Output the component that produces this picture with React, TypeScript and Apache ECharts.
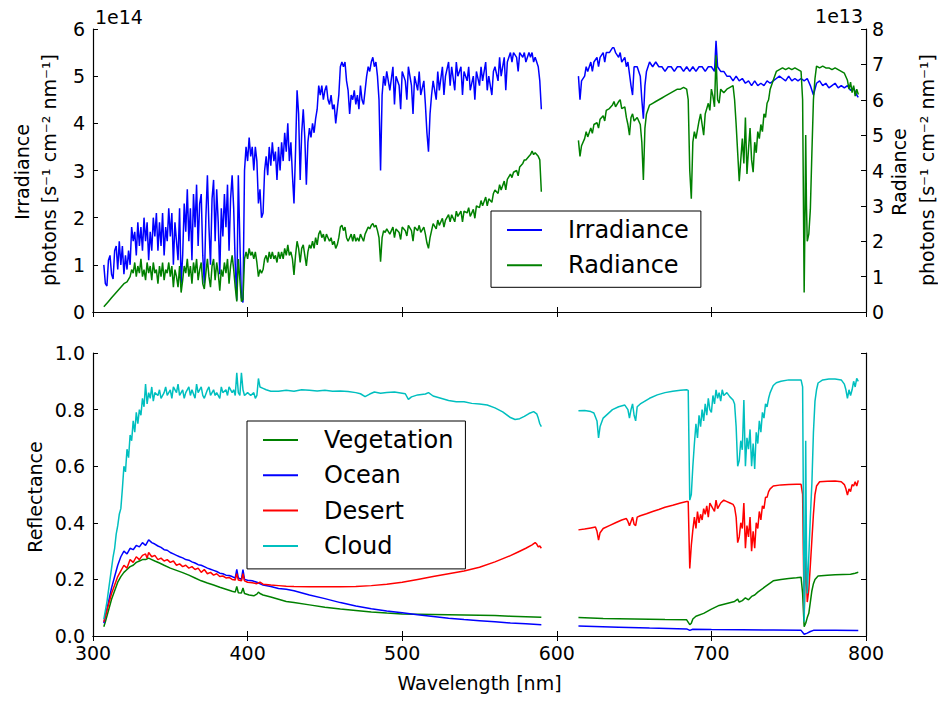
import React, { useEffect, useRef } from "react";
import * as echarts from "echarts";

// ---------- data ----------
// Irradiance in units of 1e14 photons s^-1 cm^-2 nm^-1
const irradianceA = [
  [307,1.0],[308,0.6],[309,0.55],[310,1.1],[311,1.2],[312,0.8],[313,0.7],[314,1.3],[315,1.4],[316,0.9],
  [317,1.5],[318,1.0],[319,1.4],[320,0.8],[321,1.2],[322,0.9],[323,1.3],[324,1.0],[325,1.8],[326,1.5],
  [327,1.7],[328,1.2],[329,1.9],[330,1.4],[331,1.8],[332,1.3],[333,2.0],[334,1.5],[335,1.9],[336,1.1],
  [337,1.7],[338,1.3],[339,2.0],[340,1.6],[341,2.1],[342,1.3],[343,1.9],[344,1.4],[345,2.1],[346,1.2],
  [347,1.8],[348,1.5],[349,2.2],[350,1.6],[351,2.1],[352,1.0],[353,1.9],[354,1.5],[355,1.1],[356,2.2],
  [357,0.6],[358,1.2],[359,2.3],[360,1.7],[361,2.6],[362,1.5],[363,2.2],[364,1.1],[365,2.5],[366,1.8],
  [367,2.7],[368,1.4],[369,2.3],[370,2.5],[371,1.2],[372,0.6],[373,2.0],[374,2.9],[375,1.8],[376,1.0],
  [377,2.4],[378,2.8],[379,1.5],[380,2.6],[381,1.9],[382,0.8],[383,2.2],[384,1.6],[385,2.5],[386,1.8],
  [387,2.7],[388,1.3],[389,2.4],[390,2.9],[391,2.2],[392,1.0],[393,0.25],[394,2.9],[395,1.5],[396,0.3],
  [397,0.2],[398,3.0],[399,3.5],[400,3.2],[401,3.7],[402,3.3],[403,3.5],[404,3.0],[405,3.5],[406,3.2],
  [407,2.3],[408,2.6],[409,2.0],[410,2.1],[411,3.0],[412,3.3],[413,2.9],[414,3.5],[415,3.1],[416,3.6],
  [417,3.2],[418,3.4],[419,2.8],[420,3.5],[421,3.0],[422,3.6],[423,3.2],[424,3.8],[425,3.4],[426,4.0],
  [427,3.2],[428,3.6],[429,2.9],[430,2.3],[431,3.4],[432,4.7],[433,4.2],[434,2.8],[435,3.8],[436,4.3],
  [437,3.7],[438,2.7],[439,3.6],[440,3.9],[441,3.7],[442,4.0],[443,3.8],[444,4.1],[445,4.3],[446,4.8],
  [447,4.6],[448,4.8],[449,4.5],[450,4.7],[451,4.8],[452,4.5],[453,4.4],[454,4.6],[455,4.3],[456,4.4],
  [457,4.0],[458,4.3],[459,4.6],[460,5.2],[461,5.3],[462,5.2],[463,5.3],[464,4.9],[465,4.7],[466,4.2],
  [467,4.6],[468,4.5],[469,4.7],[470,4.4],[471,4.6],[472,4.3],[473,4.8],[474,4.5],[475,4.4],[476,4.7],
  [477,5.0],[478,5.2],[479,5.1],[480,5.3],[481,5.4],[482,5.2],[483,5.3],[484,5.0],[485,4.5],[486,3.0],
  [487,4.6],[488,5.0],[489,4.8],[490,5.1],[492,4.7],[494,5.2],[495,4.4],[496,5.0],[498,4.8],[499,4.3],
  [500,5.1],[502,4.9],[503,4.5],[504,5.2],[506,4.8],[507,4.2],[508,5.0],[510,4.7],[511,5.1],[512,4.6],
  [514,4.9],[515,4.4],[516,3.8],[517,3.4],[518,4.2],[519,4.6],[520,4.9],[522,4.5],[523,5.1],[524,4.7],
  [526,5.2],[527,4.6],[528,5.0],[530,5.3],[531,4.8],[532,5.2],[534,4.7],[535,5.3],[536,5.0],[538,5.2],
  [539,4.6],[540,5.1],[542,4.9],[543,5.2],[544,4.7],[546,5.0],[547,4.5],[548,5.1],[550,4.8],[551,5.2],
  [552,4.9],[554,5.3],[555,4.7],[556,5.0],[558,4.6],[559,5.1],[560,5.2],[562,4.9],[563,5.4],[564,5.0],
  [566,5.4],[567,4.7],[568,5.3],[570,5.5],[571,5.3],[572,5.5],[574,5.4],[575,5.1],[576,5.5],[578,5.4],
  [579,5.5],[580,5.3],[582,5.5],[583,5.4],[584,5.5],[585,5.3],[586,5.4],[587,5.3],[588,5.2],[589,4.9],[590,4.3]
];
const irradianceB = [
  [614,5.0],[615,4.5],[616,4.9],[618,5.0],[619,5.2],[620,5.1],[622,5.3],[623,5.1],[624,5.3],[626,5.4],
  [627,5.2],[628,5.4],[630,5.5],[631,5.3],[632,5.5],[634,5.5],[636,5.6],[637,5.6],[638,5.5],[640,5.4],
  [641,5.5],[642,5.3],[644,5.4],[645,5.2],[646,5.3],[648,4.8],[649,4.6],[650,5.2],[652,5.2],[654,5.0],
  [655,4.5],[656,4.1],[657,4.8],[658,5.1],[660,5.3],[662,5.2],[664,5.3],[666,5.2],[668,5.2],[670,5.1],
  [672,5.2],[674,5.2],[676,5.1],[678,5.2],[680,5.2],[682,5.1],[684,5.2],[686,5.1],[688,5.2],[690,5.1],
  [692,5.2],[694,5.2],[696,5.1],[698,5.2],[700,5.2],[702,5.1],[703,5.75],[704,5.2],[706,5.1],[708,5.1],
  [710,5.0],[712,5.0],[714,4.9],[716,5.0],[718,4.9],[720,4.95],[722,4.85],[724,4.9],[726,4.8],[728,4.9],
  [730,4.8],[732,4.85],[734,4.8],[736,4.9],[738,4.85],[740,4.9],[742,4.95],[744,5.0],[746,4.95],[748,4.9],
  [750,5.0],[752,4.9],[754,4.95],[756,4.9],[758,4.95],[760,4.9],[762,4.95],[764,4.8],[766,4.6],[768,4.85],
  [770,4.9],[772,4.8],[774,4.85],[776,4.75],[778,4.8],[780,4.85],[782,4.75],[784,4.8],[786,4.75],[788,4.8],
  [790,4.7],[792,4.75],[794,4.6],[795,4.55]
];

// Radiance in units of 1e13 photons s^-1 cm^-2 nm^-1
const radianceA = [
  [307,0.15],[308,0.2],[310,0.3],[312,0.4],[314,0.5],[316,0.6],[318,0.7],[320,0.8],[322,0.85],[324,1.0],
  [325,1.2],[326,1.1],[327,1.4],[328,1.0],[329,1.3],[330,1.1],[331,1.5],[332,1.0],[333,1.2],[334,0.9],
  [335,1.4],[336,1.1],[337,1.3],[338,0.9],[339,1.4],[340,1.1],[341,1.2],[342,0.8],[343,1.3],[344,1.0],
  [345,1.4],[346,0.9],[347,1.2],[348,1.1],[349,1.4],[350,1.0],[351,1.3],[352,0.7],[353,1.2],[354,1.0],
  [355,0.7],[356,1.3],[357,0.55],[358,0.9],[359,1.3],[360,1.1],[361,1.5],[362,1.0],[363,1.3],[364,0.8],
  [365,1.4],[366,1.1],[367,1.5],[368,0.9],[369,1.2],[370,1.4],[371,0.8],[372,0.65],[373,1.1],[374,1.5],
  [375,1.0],[376,0.7],[377,1.3],[378,1.5],[379,0.9],[380,1.4],[381,1.1],[382,0.6],[383,1.2],[384,1.0],
  [385,1.4],[386,1.1],[387,1.5],[388,0.8],[389,1.3],[390,1.6],[391,1.2],[392,0.7],[393,0.3],[394,1.5],
  [395,0.9],[396,0.3],[397,0.35],[398,1.5],[399,1.7],[400,1.5],[401,1.8],[402,1.6],[403,1.7],[404,1.5],
  [405,1.7],[406,1.4],[407,1.0],[408,1.2],[409,1.1],[410,1.2],[411,1.5],[412,1.6],[413,1.4],[414,1.7],
  [415,1.5],[416,1.7],[417,1.5],[418,1.6],[419,1.4],[420,1.7],[421,1.5],[422,1.7],[423,1.5],[424,1.8],
  [425,1.6],[426,1.9],[427,1.6],[428,1.7],[429,1.5],[430,1.05],[431,1.6],[432,2.0],[433,1.8],[434,1.4],
  [435,1.8],[436,1.9],[437,1.6],[438,1.3],[439,1.7],[440,1.9],[441,1.8],[442,2.0],[443,1.8],[444,2.1],
  [445,1.9],[446,2.2],[447,2.3],[448,2.1],[449,2.2],[450,2.0],[451,2.2],[452,2.1],[453,2.0],[454,2.1],
  [455,1.9],[456,2.0],[457,1.8],[458,1.9],[459,2.1],[460,2.4],[461,2.45],[462,2.3],[463,2.4],[464,2.1],
  [465,2.0],[466,2.1],[467,2.2],[468,2.0],[469,2.2],[470,2.0],[471,2.1],[472,2.0],[473,2.2],[474,2.1],
  [475,2.0],[476,2.2],[477,2.3],[478,2.4],[479,2.35],[480,2.45],[481,2.5],[482,2.4],[483,2.45],[484,2.3],
  [485,2.1],[486,1.42],[487,2.1],[488,2.3],[489,2.25],[490,2.35],[492,2.2],[494,2.4],[495,2.1],[496,2.35],
  [498,2.25],[499,2.05],[500,2.4],[502,2.3],[503,2.15],[504,2.45],[506,2.3],[507,2.0],[508,2.4],[510,2.3],
  [511,2.45],[512,2.25],[514,2.4],[515,2.2],[516,1.95],[517,1.8],[518,2.1],[519,2.3],[520,2.5],[522,2.35],
  [523,2.6],[524,2.45],[526,2.65],[527,2.4],[528,2.6],[530,2.75],[531,2.55],[532,2.75],[534,2.55],[535,2.85],
  [536,2.7],[538,2.85],[539,2.55],[540,2.85],[542,2.8],[543,2.95],[544,2.7],[546,2.9],[547,2.65],[548,3.0],
  [550,2.95],[551,3.15],[552,3.0],[554,3.25],[555,3.0],[556,3.2],[558,3.1],[559,3.35],[560,3.45],[562,3.35],
  [563,3.6],[564,3.45],[566,3.7],[567,3.45],[568,3.75],[570,3.9],[571,3.8],[572,3.95],[574,4.0],[575,3.85],
  [576,4.1],[578,4.2],[579,4.3],[580,4.3],[582,4.4],[583,4.45],[584,4.55],[585,4.45],[586,4.5],[587,4.45],
  [588,4.4],[589,4.3],[590,3.4]
];
const radianceB = [
  [614,4.85],[615,4.4],[616,4.7],[618,4.9],[619,5.1],[620,4.95],[622,5.2],[623,5.05],[624,5.3],[626,5.35],
  [627,5.2],[628,5.45],[630,5.55],[631,5.4],[632,5.7],[634,5.75],[636,5.85],[637,5.95],[638,5.8],[640,5.95],
  [641,6.0],[642,5.75],[644,5.8],[645,5.5],[646,5.3],[647,5.0],[648,5.5],[649,5.6],[650,5.4],[652,5.5],
  [654,5.3],[655,4.8],[656,3.73],[657,5.2],[658,5.6],[660,5.85],[662,5.9],[664,5.95],[666,6.0],[668,6.05],
  [670,6.1],[672,6.15],[674,6.2],[676,6.25],[678,6.3],[680,6.3],[682,6.35],[684,6.3],[685,6.0],[686,4.0],
  [687,3.2],[688,4.8],[689,5.1],[690,4.9],[692,5.4],[693,5.6],[694,5.3],[695,5.0],[696,5.6],[698,5.9],
  [699,5.7],[700,6.3],[701,6.1],[702,5.8],[703,7.26],[704,6.0],[705,5.9],[706,6.3],[708,6.2],[710,6.3],
  [712,6.35],[714,6.4],[715,6.0],[716,5.3],[717,4.5],[718,3.7],[719,4.3],[720,4.9],[721,4.2],[722,5.5],
  [723,3.9],[724,4.6],[725,5.2],[726,4.3],[727,3.95],[728,4.8],[729,4.5],[730,5.1],[731,4.9],[732,5.3],
  [733,5.1],[734,5.6],[735,5.5],[736,5.9],[737,6.0],[738,6.3],[740,6.55],[742,6.8],[744,6.85],[746,6.9],
  [748,6.85],[750,6.9],[752,6.85],[754,6.9],[756,6.85],[758,6.8],[759,6.0],[760,0.55],[760.5,2.5],[761,5.0],
  [761.5,3.0],[762,2.0],[763,2.2],[764,2.9],[765,4.5],[766,6.0],[767,6.6],[768,6.95],[770,6.9],[772,6.95],
  [774,6.9],[776,6.9],[778,6.85],[780,6.9],[782,6.85],[784,6.8],[786,6.75],[788,6.55],[789,6.3],[790,6.5],
  [791,6.2],[792,6.4],[793,6.1],[794,6.3],[795,6.15]
];

// Reflectance
const vegetationA = [
  [307,0.033],[308,0.05],[310,0.09],[312,0.13],[314,0.16],[316,0.19],[318,0.21],[320,0.225],[322,0.235],
  [324,0.245],[326,0.25],[328,0.26],[330,0.265],[332,0.27],[334,0.27],[336,0.275],[338,0.27],[340,0.265],
  [343,0.258],[346,0.25],[350,0.24],[354,0.232],[358,0.224],[362,0.215],[366,0.205],[370,0.195],[374,0.187],
  [378,0.18],[382,0.172],[386,0.165],[390,0.158],[392,0.155],[393,0.175],[394,0.153],[396,0.152],[397,0.17],
  [398,0.15],[401,0.145],[404,0.142],[406,0.148],[407,0.155],[408,0.15],[410,0.145],[415,0.138],[420,0.13],
  [425,0.122],[430,0.118],[440,0.11],[450,0.102],[460,0.095],[470,0.09],[480,0.085],[490,0.081],[500,0.078],
  [510,0.077],[520,0.076],[530,0.075],[540,0.074],[550,0.073],[560,0.072],[570,0.07],[580,0.068],[590,0.066]
];
const vegetationB = [
  [614,0.065],[630,0.062],[650,0.06],[670,0.058],[684,0.057],[686,0.04],[687,0.045],[688,0.06],[690,0.07],
  [695,0.08],[700,0.095],[705,0.108],[710,0.115],[715,0.122],[717,0.13],[718,0.12],[720,0.125],[722,0.135],
  [724,0.128],[726,0.14],[728,0.145],[730,0.155],[735,0.175],[740,0.195],[745,0.2],[750,0.203],[755,0.206],
  [758,0.208],[759,0.15],[760,0.033],[761,0.045],[762,0.065],[763,0.08],[764,0.12],[765,0.16],[766,0.185],
  [767,0.2],[769,0.212],[775,0.215],[780,0.216],[785,0.217],[790,0.218],[793,0.222],[795,0.225]
];
const oceanA = [
  [307,0.045],[308,0.07],[310,0.12],[312,0.17],[314,0.21],[316,0.25],[318,0.28],[320,0.3],[322,0.29],
  [324,0.31],[326,0.305],[328,0.32],[330,0.315],[332,0.33],[334,0.32],[336,0.34],[338,0.33],[340,0.325],
  [342,0.318],[344,0.313],[346,0.305],[348,0.303],[350,0.295],[352,0.29],[354,0.285],[356,0.28],[358,0.276],
  [360,0.27],[362,0.268],[364,0.262],[366,0.258],[368,0.252],[370,0.25],[372,0.245],[374,0.24],[376,0.236],
  [378,0.232],[380,0.228],[382,0.222],[384,0.22],[386,0.215],[388,0.214],[390,0.21],[392,0.205],[393,0.235],
  [394,0.205],[396,0.2],[397,0.235],[398,0.2],[400,0.197],[403,0.195],[406,0.19],[410,0.18],[415,0.175],
  [420,0.168],[425,0.165],[430,0.16],[440,0.145],[450,0.132],[460,0.118],[470,0.106],[480,0.096],[490,0.088],
  [500,0.082],[510,0.075],[520,0.069],[530,0.063],[540,0.058],[550,0.054],[560,0.05],[570,0.046],[580,0.043],
  [590,0.04]
];
const oceanB = [
  [614,0.035],[640,0.031],[660,0.028],[684,0.025],[686,0.02],[688,0.024],[700,0.023],[720,0.022],[740,0.021],
  [758,0.02],[760,0.006],[762,0.01],[764,0.016],[766,0.02],[780,0.02],[795,0.019]
];
const desertA = [
  [307,0.05],[308,0.07],[310,0.11],[312,0.15],[314,0.18],[316,0.21],[318,0.23],[320,0.25],[322,0.24],
  [324,0.27],[326,0.26],[328,0.28],[330,0.27],[332,0.285],[334,0.29],[335,0.275],[336,0.295],[338,0.28],
  [340,0.285],[342,0.27],[344,0.275],[346,0.265],[348,0.27],[350,0.26],[352,0.265],[354,0.25],[356,0.255],
  [358,0.245],[360,0.25],[362,0.24],[364,0.245],[366,0.235],[368,0.24],[370,0.225],[372,0.235],[374,0.22],
  [376,0.225],[378,0.215],[380,0.22],[382,0.21],[384,0.212],[386,0.205],[388,0.207],[390,0.2],[392,0.198],
  [393,0.22],[394,0.198],[396,0.195],[397,0.22],[398,0.195],[400,0.19],[403,0.188],[406,0.185],[408,0.19],
  [410,0.183],[415,0.18],[420,0.178],[425,0.176],[430,0.175],[440,0.174],[450,0.174],[460,0.174],[470,0.175],
  [480,0.178],[490,0.183],[500,0.19],[510,0.2],[520,0.21],[530,0.22],[540,0.23],[550,0.243],
  [560,0.262],[570,0.284],[575,0.297],[580,0.31],[584,0.322],[586,0.33],[587,0.325],[588,0.315],[589,0.318],
  [590,0.31]
];
const desertB = [
  [614,0.375],[618,0.378],[622,0.382],[625,0.385],[626,0.37],[627,0.339],[628,0.365],[630,0.38],[634,0.39],
  [638,0.4],[642,0.41],[645,0.415],[646,0.405],[647,0.39],[648,0.405],[649,0.42],[650,0.395],[651,0.39],
  [652,0.42],[654,0.425],[658,0.432],[662,0.44],[666,0.447],[670,0.455],[675,0.462],[680,0.47],[684,0.475],
  [685,0.475],[686,0.239],[687,0.32],[688,0.375],[689,0.42],[690,0.38],[691,0.44],[692,0.4],[693,0.43],
  [694,0.41],[695,0.45],[696,0.43],[697,0.46],[698,0.42],[699,0.47],[700,0.46],[702,0.44],[703,0.48],
  [704,0.45],[706,0.47],[708,0.48],[710,0.475],[712,0.47],[714,0.465],[715,0.455],[716,0.42],[717,0.33],
  [718,0.35],[719,0.4],[720,0.38],[721,0.47],[722,0.31],[723,0.39],[724,0.35],[725,0.42],[726,0.3],
  [727,0.37],[728,0.31],[729,0.4],[730,0.38],[731,0.44],[732,0.41],[733,0.46],[734,0.45],[735,0.49],
  [736,0.49],[737,0.51],[738,0.52],[740,0.53],[745,0.534],[750,0.535],[755,0.536],[758,0.536],[759,0.5],
  [760,0.08],[761,0.28],[762,0.12],[763,0.163],[764,0.25],[765,0.34],[766,0.43],[767,0.5],[768,0.53],
  [770,0.545],[775,0.547],[780,0.548],[784,0.545],[786,0.535],[787,0.52],[788,0.498],[789,0.52],[790,0.51],
  [791,0.535],[792,0.53],[793,0.545],[794,0.53],[795,0.55]
];
const cloudA = [
  [307,0.06],[308,0.09],[309,0.12],[310,0.16],[311,0.2],[312,0.24],[313,0.28],[314,0.31],[315,0.36],
  [316,0.39],[317,0.43],[318,0.45],[319,0.52],[320,0.6],[321,0.58],[322,0.66],[323,0.63],[324,0.71],
  [325,0.69],[326,0.76],[327,0.72],[328,0.79],[329,0.75],[330,0.8],[331,0.78],[332,0.84],[333,0.81],
  [334,0.89],[335,0.82],[336,0.86],[337,0.84],[338,0.88],[339,0.83],[340,0.86],[342,0.85],[343,0.87],
  [344,0.84],[346,0.86],[347,0.88],[348,0.85],[350,0.87],[351,0.84],[352,0.88],[354,0.86],[355,0.89],
  [356,0.85],[358,0.87],[359,0.84],[360,0.86],[362,0.88],[363,0.85],[364,0.87],[366,0.84],[367,0.89],
  [368,0.86],[370,0.88],[371,0.85],[372,0.84],[374,0.87],[375,0.88],[376,0.85],[378,0.87],[379,0.85],
  [380,0.86],[382,0.84],[383,0.88],[384,0.86],[386,0.87],[387,0.85],[388,0.88],[390,0.86],[391,0.87],
  [392,0.85],[393,0.93],[394,0.86],[395,0.85],[396,0.93],[397,0.87],[398,0.85],[400,0.86],[402,0.85],
  [404,0.86],[405,0.84],[406,0.85],[407,0.91],[408,0.88],[410,0.875],[412,0.87],[415,0.865],[420,0.865],
  [425,0.868],[430,0.865],[435,0.87],[440,0.868],[445,0.866],[450,0.868],[455,0.865],[460,0.866],
  [465,0.864],[470,0.86],[473,0.856],[476,0.846],[479,0.855],[482,0.862],[486,0.858],[490,0.86],
  [495,0.862],[500,0.858],[502,0.856],[504,0.836],[506,0.845],[510,0.852],[515,0.855],[517,0.86],
  [520,0.848],[525,0.84],[530,0.832],[535,0.828],[540,0.828],[545,0.822],[550,0.82],[555,0.816],
  [560,0.806],[565,0.792],[570,0.772],[573,0.765],[576,0.768],[579,0.776],[582,0.786],[585,0.793],
  [587,0.785],[588,0.77],[589,0.75],[590,0.74]
];
const cloudB = [
  [614,0.796],[618,0.797],[622,0.793],[624,0.788],[626,0.76],[627,0.7],[628,0.74],[630,0.77],[633,0.785],
  [636,0.8],[640,0.81],[644,0.816],[646,0.8],[647,0.77],[648,0.8],[649,0.82],[650,0.78],[651,0.76],
  [652,0.81],[654,0.82],[657,0.83],[660,0.84],[665,0.852],[670,0.86],[675,0.865],[680,0.868],[684,0.87],
  [685,0.868],[686,0.48],[687,0.5],[688,0.6],[689,0.68],[690,0.75],[691,0.7],[692,0.78],[693,0.74],
  [694,0.8],[695,0.76],[696,0.82],[697,0.78],[698,0.84],[699,0.8],[700,0.79],[701,0.85],[702,0.82],
  [703,0.87],[704,0.84],[705,0.86],[706,0.83],[707,0.87],[708,0.85],[710,0.86],[712,0.845],[714,0.834],
  [715,0.82],[716,0.74],[717,0.6],[718,0.62],[719,0.69],[720,0.658],[721,0.834],[722,0.6],[723,0.7],
  [724,0.66],[725,0.73],[726,0.6],[727,0.68],[728,0.59],[729,0.72],[730,0.68],[731,0.76],[732,0.72],
  [733,0.79],[734,0.77],[735,0.82],[736,0.81],[737,0.84],[738,0.86],[740,0.885],[742,0.895],[745,0.9],
  [750,0.905],[755,0.905],[758,0.905],[759,0.88],[760,0.05],[760.5,0.2],[761,0.69],[761.5,0.3],[762,0.15],
  [763,0.28],[764,0.42],[765,0.54],[766,0.72],[767,0.83],[768,0.87],[769,0.894],[772,0.905],[776,0.908],
  [780,0.908],[784,0.905],[786,0.89],[787,0.87],[788,0.84],[789,0.87],[790,0.85],[791,0.87],[792,0.9],
  [793,0.88],[794,0.91],[795,0.9]
];

const topLeftTicks = [0, 6, 1];      // min, max, interval (x 1e14)
const topRightTicks = [0, 8, 1];     // min, max, interval (x 1e13)
const bottomTicks = [0, 1, 0.2];
const xTicks = [300, 800, 100];

const FONT = "DejaVu Sans";
const GAP = [600, "-"];
const joinGap = (a: any[], b: any[]) => [...a, GAP, ...b];

export default function App() {
  const ref = useRef<HTMLDivElement>(null);
  useEffect(() => {
    if (!ref.current) return;
    const chart = echarts.init(ref.current, null, { renderer: "svg" });
    const axisLine = { show: true, lineStyle: { color: "#000", width: 1.2 } };
    const tick = { show: true, inside: true, length: 5, lineStyle: { color: "#000", width: 1 } };
    const lbl = { fontFamily: FONT, fontSize: 19, color: "#000" };
    const xBase = (grid: number, pos: string, showLabel: boolean) => ({
      type: "value", gridIndex: grid, position: pos, min: xTicks[0], max: xTicks[1], interval: xTicks[2],
      axisLine, axisTick: tick, splitLine: { show: false },
      axisLabel: { show: showLabel, margin: 7, ...lbl },
    });
    const line = (name: string, color: string, data: any[], xi: number, yi: number) => ({
      name, type: "line", xAxisIndex: xi, yAxisIndex: yi, data, showSymbol: false, symbol: "none",
      lineStyle: { color, width: 1.5 }, itemStyle: { color }, connectNulls: false,
    });
    const legendCommon = {
      orient: "vertical", icon: "rect", itemWidth: 35, itemHeight: 2, itemGap: 11.3,
      borderColor: "#000", borderWidth: 1, backgroundColor: "#fff", borderRadius: 0,
      textStyle: { fontFamily: FONT, fontSize: 24, color: "#000", lineHeight: 24, padding: [0, 0, 0, 21] },
    };
    chart.setOption({
      animation: false,
      grid: [
        { left: 93, top: 29, width: 773, height: 283 },
        { left: 93, top: 353, width: 773, height: 283 },
      ],
      xAxis: [
        xBase(0, "bottom", false),
        xBase(0, "top", false),
        { ...xBase(1, "bottom", true), name: "Wavelength [nm]", nameLocation: "middle", nameGap: 37,
          nameTextStyle: { fontFamily: FONT, fontSize: 19, color: "#000" } },
        xBase(1, "top", false),
      ],
      yAxis: [
        { type: "value", gridIndex: 0, position: "left", min: topLeftTicks[0], max: topLeftTicks[1], interval: topLeftTicks[2],
          axisLine, axisTick: tick, splitLine: { show: false }, axisLabel: { margin: 8, ...lbl } },
        { type: "value", gridIndex: 0, position: "right", min: topRightTicks[0], max: topRightTicks[1], interval: topRightTicks[2],
          axisLine, axisTick: tick, splitLine: { show: false }, axisLabel: { margin: 6, ...lbl } },
        { type: "value", gridIndex: 1, position: "left", min: bottomTicks[0], max: bottomTicks[1], interval: bottomTicks[2],
          axisLine, axisTick: tick, splitLine: { show: false },
          axisLabel: { margin: 8, ...lbl, formatter: (v: number) => v.toFixed(1) } },
        { type: "value", gridIndex: 1, position: "right", min: bottomTicks[0], max: bottomTicks[1], interval: bottomTicks[2],
          axisLine, axisTick: tick, splitLine: { show: false }, axisLabel: { show: false } },
      ],
      legend: [
        { ...legendCommon, data: ["Irradiance", "Radiance"], left: 491, top: 211, padding: [7, 12, 10, 16] },
        { ...legendCommon, data: ["Vegetation", "Ocean", "Desert", "Cloud"], left: 247, top: 421, padding: [7, 12, 11, 16] },
      ],
      series: [
        line("Irradiance", "#0000ff", joinGap(irradianceA, irradianceB), 0, 0),
        line("Radiance", "#008000", joinGap(radianceA, radianceB), 0, 1),
        line("Vegetation", "#008000", joinGap(vegetationA, vegetationB), 2, 2),
        line("Ocean", "#0000ff", joinGap(oceanA, oceanB), 2, 2),
        line("Desert", "#ff0000", joinGap(desertA, desertB), 2, 2),
        line("Cloud", "#00bfbf", joinGap(cloudA, cloudB), 2, 2),
      ],
      graphic: [
        { type: "text", left: 95, top: 7, style: { text: "1e14", font: `19px "${FONT}"`, fill: "#000" } },
        { type: "text", right: 75, top: 6, style: { text: "1e13", font: `19px "${FONT}"`, fill: "#000" } },
        { type: "text", x: 22, y: 172, rotation: Math.PI / 2,
          style: { text: "Irradiance", font: `19px "${FONT}"`, fill: "#000", align: "center", verticalAlign: "middle" } },
        { type: "text", x: 49, y: 170, rotation: Math.PI / 2,
          style: { text: "photons [s⁻¹ cm⁻² nm⁻¹]", font: `19px "${FONT}"`, fill: "#000", align: "center", verticalAlign: "middle" } },
        { type: "text", x: 899, y: 172, rotation: Math.PI / 2,
          style: { text: "Radiance", font: `19px "${FONT}"`, fill: "#000", align: "center", verticalAlign: "middle" } },
        { type: "text", x: 927, y: 170, rotation: Math.PI / 2,
          style: { text: "photons [s⁻¹ cm⁻² nm⁻¹]", font: `19px "${FONT}"`, fill: "#000", align: "center", verticalAlign: "middle" } },
        { type: "text", x: 35, y: 497, rotation: Math.PI / 2,
          style: { text: "Reflectance", font: `19px "${FONT}"`, fill: "#000", align: "center", verticalAlign: "middle" } },
      ],
    });
    return () => chart.dispose();
  }, []);
  return <div ref={ref} style={{ position: "absolute", left: 0, top: 0, width: 938, height: 701 }} />;
}
